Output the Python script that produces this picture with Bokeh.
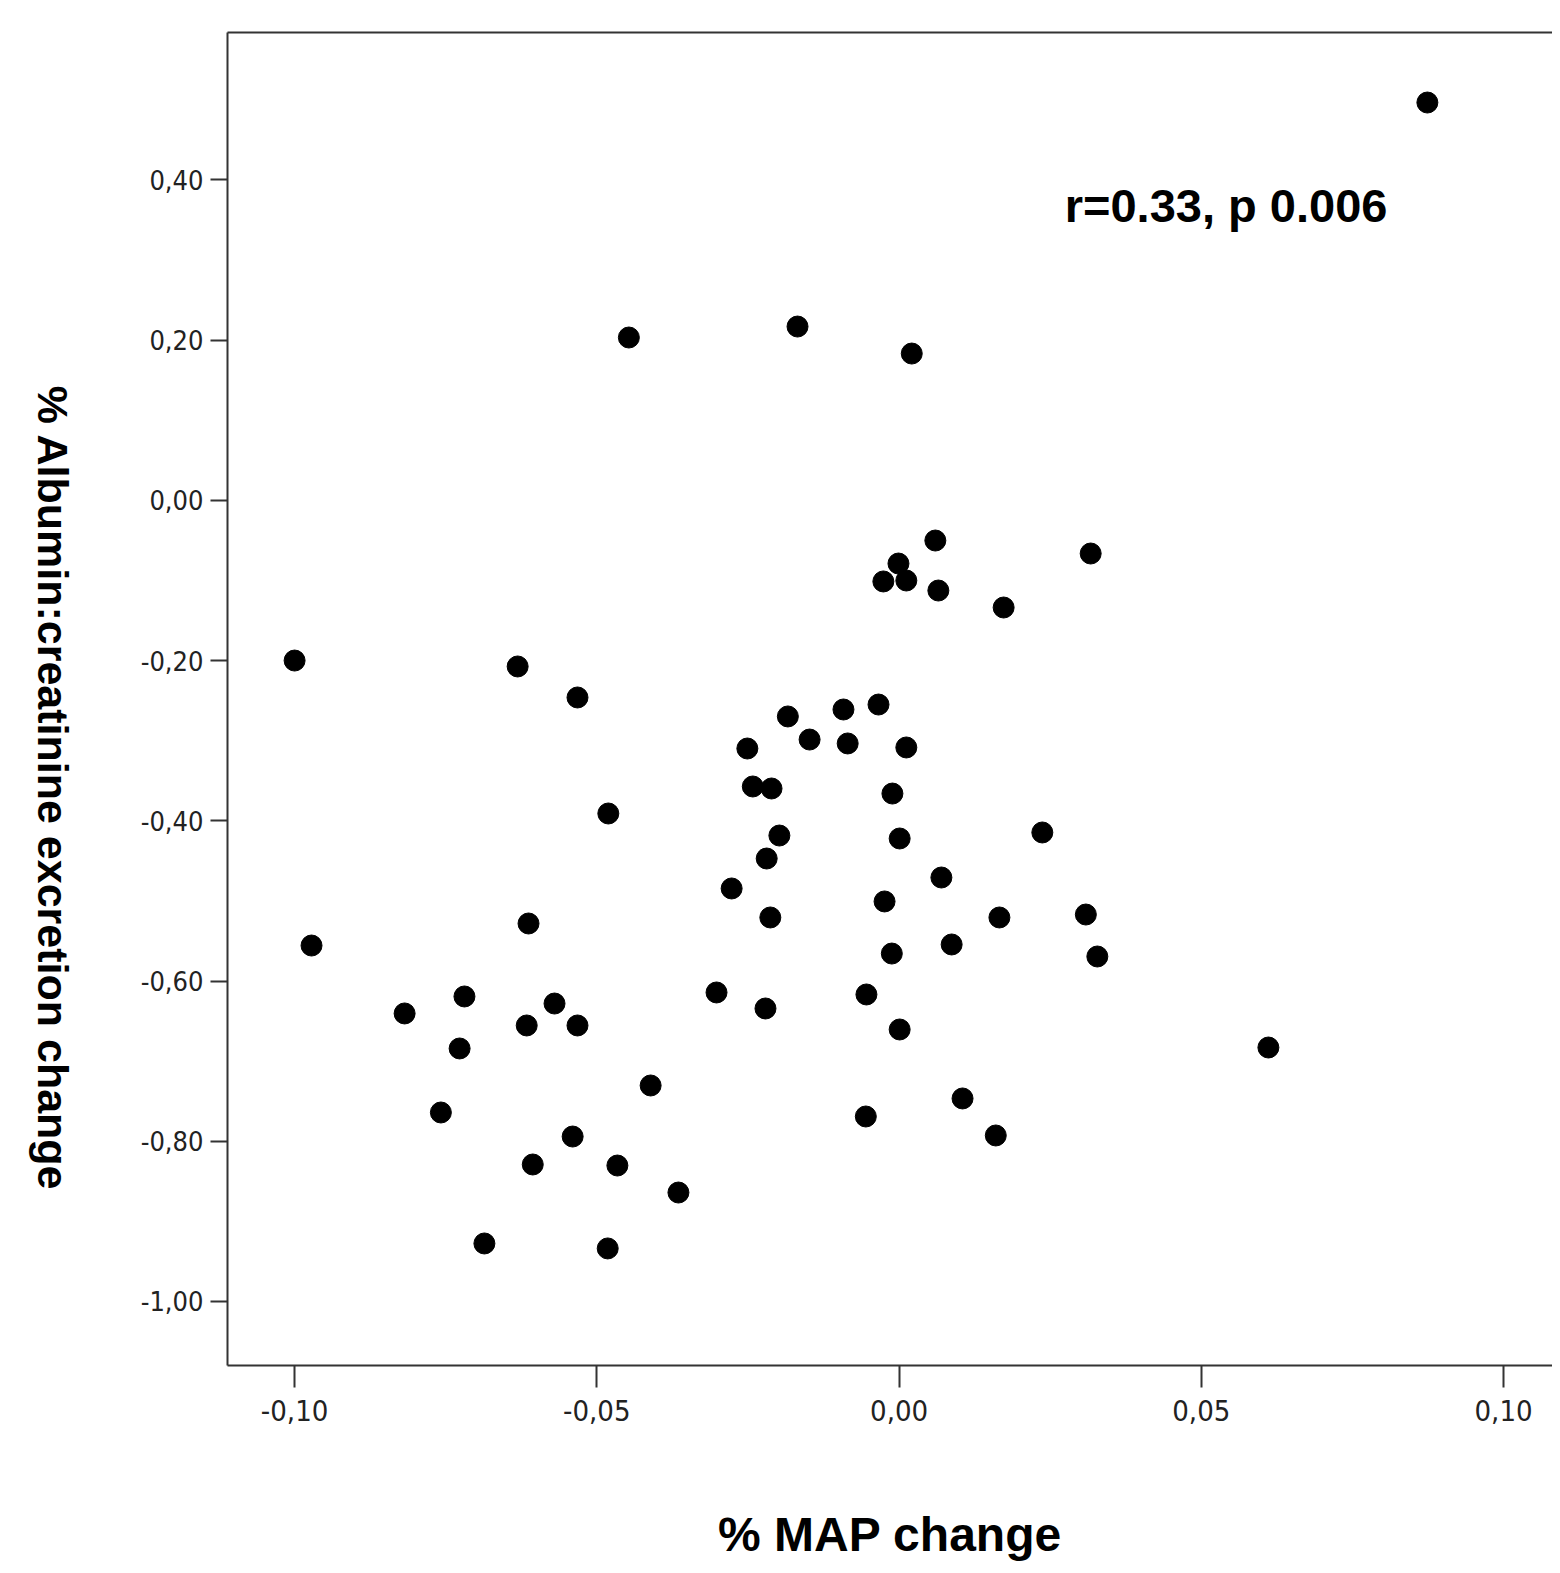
import math
from bokeh.plotting import figure
from bokeh.layouts import row
from bokeh.models import Range1d, FixedTicker, LinearAxis, Label
from bokeh.embed import file_html
from bokeh.resources import INLINE

# % MAP change (x) and % Albumin:creatinine excretion change (y)
map_change = [
    0.0874, -0.0447, -0.0168, 0.0021, 0.0060, -0.0001, -0.0026, 0.0012, 0.0065, 0.0317,
    0.0173, -0.1000, -0.0631, -0.0532, -0.0034, -0.0092, -0.0184, -0.0148, -0.0085, 0.0012,
    -0.0251, -0.0242, -0.0211, -0.0011, -0.0481, 0.0237, -0.0198, 0.0001, -0.0219, 0.0070,
    -0.0277, -0.0024, -0.0213, 0.0166, 0.0309, -0.0613, -0.0972, 0.0087, -0.0012, 0.0328,
    -0.0302, -0.0054, -0.0719, -0.0570, -0.0221, -0.0818, -0.0616, -0.0532, 0.0001, 0.0611,
    -0.0727, -0.0411, 0.0105, -0.0758, -0.0055, 0.0160, -0.0540, -0.0606, -0.0466, -0.0365,
    -0.0686, -0.0482,
]
acr_change = [
    0.4965, 0.2032, 0.2169, 0.1832, -0.0502, -0.0789, -0.1013, -0.1001, -0.1126, -0.0664,
    -0.1338, -0.2000, -0.2074, -0.2461, -0.2549, -0.2611, -0.2698, -0.2986, -0.3035, -0.3085,
    -0.3098, -0.3572, -0.3597, -0.3660, -0.3909, -0.4146, -0.4184, -0.4221, -0.4471, -0.4708,
    -0.4845, -0.5007, -0.5207, -0.5207, -0.5170, -0.5282, -0.5557, -0.5544, -0.5657, -0.5694,
    -0.6143, -0.6168, -0.6193, -0.6281, -0.6343, -0.6405, -0.6555, -0.6555, -0.6605, -0.6830,
    -0.6842, -0.7304, -0.7466, -0.7641, -0.7691, -0.7928, -0.7941, -0.8290, -0.8303, -0.8640,
    -0.9276, -0.9338,
]

x_ticks = [-0.10, -0.05, 0.00, 0.05, 0.10]
x_tick_labels = ["-0,10", "-0,05", "0,00", "0,05", "0,10"]
y_ticks = [-1.0, -0.8, -0.6, -0.4, -0.2, 0.0, 0.2, 0.4]
y_tick_labels = ["-1,00", "-0,80", "-0,60", "-0,40", "-0,20", "0,00", "0,20", "0,40"]

x_title = "% MAP change"
y_title = "% Albumin:creatinine excretion change"
annotation = "r=0.33, p 0.006"

AXIS_COLOR = "#333333"
TICK_FONT = "DejaVu Sans Condensed, Liberation Sans"
BOLD_FONT = "Liberation Sans"
H = 1565
LEFT_W = 120
TOTAL_W = 1552
FRAME_TOP = 32
FRAME_BOTTOM = 1365

p = figure(
    width=TOTAL_W - LEFT_W, height=H,
    x_range=Range1d(-0.1111, 0.1081), y_range=Range1d(-1.0799, 0.5839),
    output_backend="svg", toolbar_location=None,
    x_axis_location=None, y_axis_location=None,
    min_border_left=227 - LEFT_W, min_border_top=FRAME_TOP,
    min_border_bottom=H - FRAME_BOTTOM, min_border_right=0,
)
p.outline_line_color = None
p.xgrid.visible = False
p.ygrid.visible = False

# narrow strip holding the rotated y-axis title (reads top to bottom)
side = figure(width=LEFT_W, height=H, x_range=Range1d(0, LEFT_W), y_range=p.y_range,
              output_backend="svg", toolbar_location=None,
              x_axis_location=None, y_axis_location=None,
              min_border=0, min_border_left=0, min_border_right=0,
              min_border_top=FRAME_TOP, min_border_bottom=H - FRAME_BOTTOM)
side.outline_line_color = None
side.xgrid.visible = False
side.ygrid.visible = False
side.add_layout(Label(x=52, y=-0.3597, text=y_title, angle=-math.pi / 2,
                      text_font=BOLD_FONT, text_font_style="bold", text_font_size="43px",
                      text_color="black", text_align="center", text_baseline="middle"))

xaxis = LinearAxis(ticker=FixedTicker(ticks=x_ticks))
xaxis.major_label_overrides = {t: l for t, l in zip(x_ticks, x_tick_labels)}
xaxis.axis_label = x_title
xaxis.axis_label_text_font = BOLD_FONT
xaxis.axis_label_text_font_style = "bold"
xaxis.axis_label_text_font_size = "48px"
xaxis.axis_label_text_color = "black"
xaxis.axis_label_standoff = 84
xaxis.major_label_text_font = TICK_FONT
xaxis.major_label_text_font_size = "29px"
xaxis.major_label_text_color = "#222222"
xaxis.major_label_standoff = 12
xaxis.major_tick_out = 22
xaxis.major_tick_in = 0
xaxis.major_tick_line_width = 2
xaxis.major_tick_line_color = AXIS_COLOR
xaxis.minor_tick_line_color = None
xaxis.axis_line_width = 2
xaxis.axis_line_color = AXIS_COLOR
p.add_layout(xaxis, "below")

yaxis = LinearAxis(ticker=FixedTicker(ticks=y_ticks))
yaxis.major_label_overrides = {t: l for t, l in zip(y_ticks, y_tick_labels)}
yaxis.major_label_text_font = TICK_FONT
yaxis.major_label_text_font_size = "27px"
yaxis.major_label_text_color = "#222222"
yaxis.major_label_standoff = 7
yaxis.major_tick_out = 17
yaxis.major_tick_in = 0
yaxis.major_tick_line_width = 2
yaxis.major_tick_line_color = AXIS_COLOR
yaxis.minor_tick_line_color = None
yaxis.axis_line_width = 2
yaxis.axis_line_color = AXIS_COLOR
p.add_layout(yaxis, "left")

top = LinearAxis(ticker=FixedTicker(ticks=[]))
top.major_tick_line_color = None
top.minor_tick_line_color = None
top.axis_line_width = 2
top.axis_line_color = AXIS_COLOR
top.major_label_text_font_size = "0px"
p.add_layout(top, "above")

p.scatter(map_change, acr_change, size=21, marker="circle",
          fill_color="black", line_color="black")

p.add_layout(Label(x=0.0274, y=0.368, text=annotation,
                   text_font=BOLD_FONT, text_font_style="bold", text_font_size="47px",
                   text_color="black", text_align="left", text_baseline="alphabetic"))

layout = row(side, p)
open("out.html", "w").write(file_html(layout, INLINE))
